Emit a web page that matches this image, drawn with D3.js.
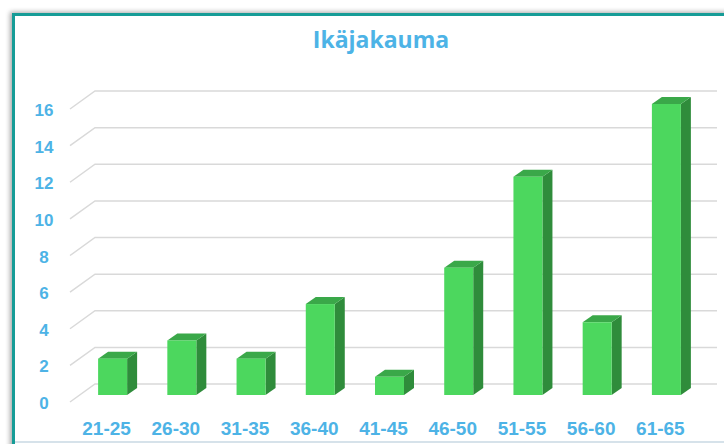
<!DOCTYPE html>
<html>
<head>
<meta charset="utf-8">
<script src="https://cdn.jsdelivr.net/npm/d3@7"></script>
<style>
  body { margin: 0; background: #fff; }
</style>
</head>
<body>
<div class="viz"></div>
<script>
const categories = ["21-25", "26-30", "31-35", "36-40", "41-45", "46-50", "51-55", "56-60", "61-65"]
const counts = [2, 3, 2, 5, 1, 7, 12, 4, 16]
const yTicks = [0, 2, 4, 6, 8, 10, 12, 14, 16]
const title = "Ikäjakauma"

const w = 724
const h = 444
const blue = "#4db3e6"

const svg = d3.select(".viz")
  .append("svg")
  .attr("width", w)
  .attr("height", h)

// frame with soft shadow
const defs = svg.append("defs")
const f = defs.append("filter").attr("id", "sh").attr("x", "-5%").attr("y", "-5%").attr("width", "110%").attr("height", "110%")
f.append("feGaussianBlur").attr("in", "SourceAlpha").attr("stdDeviation", 2.5)
f.append("feOffset").attr("dx", -2).attr("dy", -1).attr("result", "b")
f.append("feComponentTransfer").append("feFuncA").attr("type", "linear").attr("slope", 0.35)
const fm = f.append("feMerge")
fm.append("feMergeNode")
fm.append("feMergeNode").attr("in", "SourceGraphic")

svg.append("rect")
  .attr("x", 13.5).attr("y", 14.5)
  .attr("width", 740).attr("height", 440)
  .attr("fill", "#fff")
  .attr("stroke", "#129c97")
  .attr("stroke-width", 3)
  .attr("filter", "url(#sh)")

svg.append("line")
  .attr("x1", 15).attr("x2", w)
  .attr("y1", 442).attr("y2", 442)
  .attr("stroke", "#d6e2ea").attr("stroke-width", 2)

svg.append("text")
  .attr("x", 381).attr("y", 48)
  .attr("text-anchor", "middle")
  .attr("font-family", "'Open Sans', sans-serif")
  .attr("font-weight", 700)
  .attr("font-size", 23)
  .attr("fill", blue)
  .text(title)

// scales
const x = d3.scaleBand().domain(categories).range([78, 701])
const yFront = d3.scaleLinear().domain([0, 16]).range([402, 109])
const yBar = d3.scaleLinear().domain([0, 16]).range([395, 104])
const depthX = 25, depthY = 18
const barW = 29, dx = 10, dy = 7

// gridlines: short diagonal on the side wall, then along the back wall
const grid = svg.append("g")
grid.selectAll("path")
  .data(yTicks)
  .enter()
  .append("path")
  .attr("d", d => `M70,${yFront(d)} L${70 + depthX},${yFront(d) - depthY} L717,${yFront(d) - depthY}`)
  .attr("fill", "none")
  .attr("stroke", "#d9d9d9")
  .attr("stroke-width", 1.5)

svg.selectAll("text.ytick")
  .data(yTicks)
  .enter()
  .append("text")
  .attr("class", "ytick")
  .attr("x", 44)
  .attr("y", d => yFront(d) + 7)
  .attr("text-anchor", "middle")
  .attr("font-family", "'Liberation Sans', Arial, sans-serif")
  .attr("font-weight", 700)
  .attr("font-size", 17)
  .attr("fill", blue)
  .text(d => d)

// 3D bars
const bars = svg.selectAll("g.bar")
  .data(categories.map((c, i) => ({ c, v: counts[i] })))
  .enter()
  .append("g")
  .attr("class", "bar")

const bx = d => x(d.c) + x.bandwidth() / 2 - barW / 2

bars.append("path")
  .attr("d", d => {
    const x0 = bx(d) + barW, yt = yBar(d.v), yb = yBar(0)
    return `M${x0},${yt} L${x0 + dx},${yt - dy} L${x0 + dx},${yb - dy} L${x0},${yb} Z`
  })
  .attr("fill", "#2f8c3b")

bars.append("path")
  .attr("d", d => {
    const x0 = bx(d), yt = yBar(d.v)
    return `M${x0},${yt} L${x0 + dx},${yt - dy} L${x0 + barW + dx},${yt - dy} L${x0 + barW},${yt} Z`
  })
  .attr("fill", "#3aa849")

bars.append("rect")
  .attr("x", bx)
  .attr("y", d => yBar(d.v))
  .attr("width", barW)
  .attr("height", d => yBar(0) - yBar(d.v))
  .attr("fill", "#4cd75e")

svg.selectAll("text.xtick")
  .data(categories)
  .enter()
  .append("text")
  .attr("class", "xtick")
  .attr("x", d => x(d) + x.bandwidth() / 2 - 6)
  .attr("y", 435)
  .attr("text-anchor", "middle")
  .attr("font-family", "'Liberation Sans', Arial, sans-serif")
  .attr("font-weight", 700)
  .attr("font-size", 19)
  .attr("fill", blue)
  .text(d => d)
</script>
</body>
</html>
